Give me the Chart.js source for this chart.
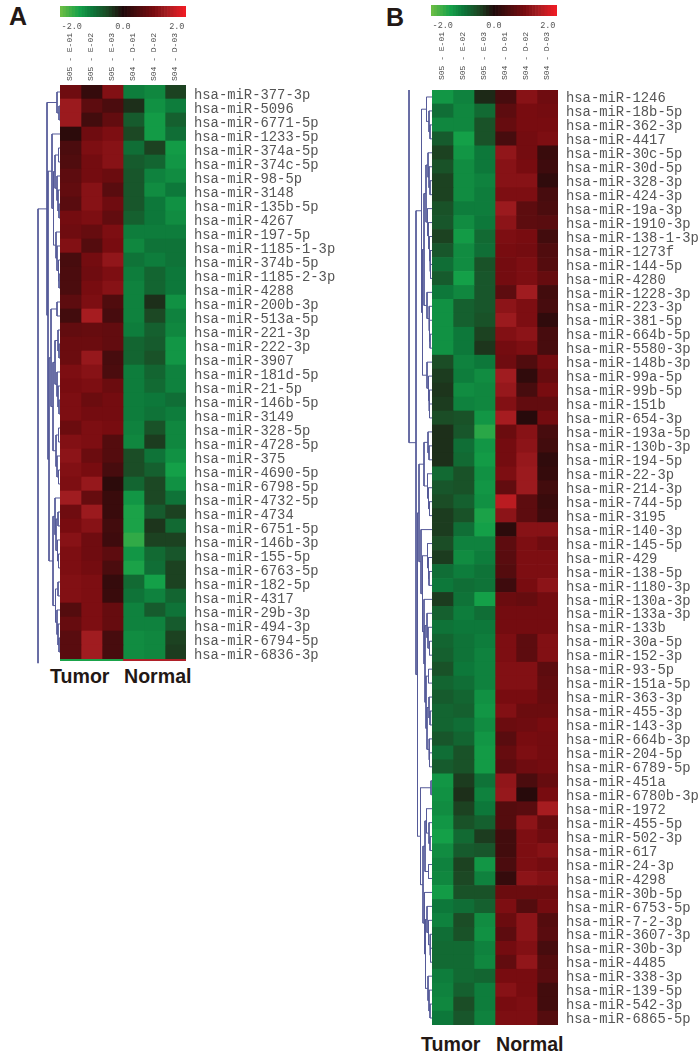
<!DOCTYPE html>
<html>
<head>
<meta charset="utf-8">
<script src="https://cdn.jsdelivr.net/npm/chart.js@4"></script>
<style>
  body { margin: 0; background: #fff; width: 700px; height: 1060px; overflow: hidden; position: relative; }
  canvas { position: absolute; }
  .txt { position: absolute; font-family: "Liberation Sans", Arial, sans-serif; font-weight: bold; color: #231815; line-height: 1; white-space: nowrap; }
  .panel { font-size: 25px; }
  .group { font-size: 19.6px; }
  .strip { position: absolute; left: 60px; top: 659px; width: 126px; height: 2px; background: linear-gradient(to right, #1aa34a 50%, #b02028 50%); }
</style>
</head>
<body>
<div class="txt panel" style="left:9px;top:4px">A</div>
<div class="txt panel" style="left:386px;top:5px">B</div>
<div class="txt group" style="left:50px;top:667px">Tumor</div>
<div class="txt group" style="left:124px;top:667px">Normal</div>
<div class="txt group" style="left:421px;top:1035px">Tumor</div>
<div class="txt group" style="left:496px;top:1035px">Normal</div>
<div class="strip"></div>

<canvas id="barA" width="126" height="34" style="left:60px;top:6px"></canvas>
<canvas id="barB" width="126" height="34" style="left:431px;top:5px"></canvas>
<canvas id="treeA" width="24" height="580" style="left:36px;top:85px"></canvas>
<canvas id="treeB" width="24" height="935" style="left:408px;top:90px"></canvas>
<canvas id="heatA" width="280" height="637" style="left:60px;top:30px"></canvas>
<canvas id="heatB" width="268" height="1000" style="left:432px;top:30px"></canvas>

<script>
const samples = ["S05 - E-01", "S05 - E-02", "S05 - E-03", "S04 - D-01", "S04 - D-02", "S04 - D-03"];

const colorbarLevels = [-2.0, -1.9, -1.8, -1.7, -1.6, -1.5, -1.4, -1.3, -1.2, -1.1, -1.0, -0.9, -0.8, -0.7, -0.6, -0.5, -0.4, -0.3, -0.2, -0.1,
  0.0, 0.1, 0.2, 0.3, 0.4, 0.5, 0.6, 0.7, 0.8, 0.9, 1.0, 1.1, 1.2, 1.3, 1.4, 1.5, 1.6, 1.7, 1.8, 1.9, 2.0];
const colorbarTicks = ["-2.0", "0.0", "2.0"];

const rowsA = ["hsa-miR-377-3p", "hsa-miR-5096", "hsa-miR-6771-5p", "hsa-miR-1233-5p", "hsa-miR-374a-5p", "hsa-miR-374c-5p", "hsa-miR-98-5p",
  "hsa-miR-3148", "hsa-miR-135b-5p", "hsa-miR-4267", "hsa-miR-197-5p", "hsa-miR-1185-1-3p", "hsa-miR-374b-5p", "hsa-miR-1185-2-3p", "hsa-miR-4288",
  "hsa-miR-200b-3p", "hsa-miR-513a-5p", "hsa-miR-221-3p", "hsa-miR-222-3p", "hsa-miR-3907", "hsa-miR-181d-5p", "hsa-miR-21-5p", "hsa-miR-146b-5p",
  "hsa-miR-3149", "hsa-miR-328-5p", "hsa-miR-4728-5p", "hsa-miR-375", "hsa-miR-4690-5p", "hsa-miR-6798-5p", "hsa-miR-4732-5p", "hsa-miR-4734",
  "hsa-miR-6751-5p", "hsa-miR-146b-3p", "hsa-miR-155-5p", "hsa-miR-6763-5p", "hsa-miR-182-5p", "hsa-miR-4317", "hsa-miR-29b-3p", "hsa-miR-494-3p",
  "hsa-miR-6794-5p", "hsa-miR-6836-3p"];

const valuesA = [
  [0.9, 0.25, 1.1, -1.05, -1.15, -0.45],
  [1.35, 0.7, 0.5, -0.3, -1.25, -1.05],
  [1.35, 0.4, 0.75, -0.7, -1.35, -0.75],
  [0.15, 0.9, 1.05, -0.5, -1.35, -0.9],
  [0.5, 1.05, 1.15, -0.9, -0.45, -1.35],
  [0.55, 0.95, 1.15, -0.7, -0.8, -1.3],
  [0.7, 0.95, 0.85, -0.65, -1.1, -1.2],
  [0.75, 1.15, 0.65, -0.65, -1.2, -1.0],
  [0.65, 1.15, 0.9, -0.65, -1.0, -1.25],
  [0.95, 1.05, 0.75, -0.75, -1.0, -1.2],
  [0.9, 0.8, 1.05, -1.05, -1.05, -1.05],
  [1.1, 0.6, 1.0, -1.15, -0.95, -0.95],
  [0.45, 0.95, 1.25, -0.95, -1.05, -0.95],
  [0.5, 0.9, 1.05, -1.05, -0.8, -1.0],
  [0.5, 1.0, 1.15, -1.1, -0.8, -1.0],
  [0.7, 1.05, 0.55, -1.1, -0.3, -1.25],
  [0.4, 1.45, 0.45, -1.1, -0.5, -1.1],
  [0.75, 0.8, 0.75, -1.05, -0.75, -1.15],
  [0.85, 0.85, 0.75, -0.8, -0.7, -1.3],
  [0.85, 1.3, 0.45, -0.8, -0.6, -1.3],
  [1.05, 1.15, 0.5, -1.05, -0.8, -1.1],
  [1.0, 1.05, 0.85, -1.05, -0.85, -1.1],
  [1.05, 0.85, 0.95, -1.05, -1.0, -0.9],
  [1.05, 0.95, 0.95, -1.05, -0.95, -1.05],
  [0.85, 1.05, 1.0, -1.1, -0.6, -1.15],
  [1.1, 1.05, 0.6, -1.15, -0.4, -1.15],
  [1.2, 0.85, 0.6, -0.55, -0.95, -1.25],
  [1.1, 1.0, 0.45, -0.55, -0.75, -1.4],
  [1.05, 1.3, 0.15, -0.8, -0.5, -1.25],
  [1.4, 0.8, 0.3, -1.3, -0.5, -0.95],
  [0.9, 1.35, 0.3, -1.45, -0.7, -0.45],
  [1.0, 1.15, 0.4, -1.45, -0.35, -0.85],
  [1.15, 0.9, 0.35, -1.6, -0.45, -0.45],
  [1.05, 0.9, 0.7, -1.3, -0.85, -0.65],
  [1.05, 0.95, 0.5, -1.45, -0.9, -0.45],
  [1.1, 1.05, 0.25, -0.85, -1.4, -0.45],
  [1.1, 1.05, 0.3, -0.95, -1.1, -0.8],
  [0.6, 1.05, 0.8, -1.1, -0.7, -0.95],
  [0.8, 1.05, 0.8, -1.1, -1.1, -0.7],
  [0.65, 1.4, 0.45, -1.2, -1.15, -0.45],
  [0.65, 1.4, 0.45, -1.2, -1.15, -0.4]
];

const rowsB = ["hsa-miR-1246", "hsa-miR-18b-5p", "hsa-miR-362-3p", "hsa-miR-4417", "hsa-miR-30c-5p", "hsa-miR-30d-5p", "hsa-miR-328-3p", "hsa-miR-424-3p",
  "hsa-miR-19a-3p", "hsa-miR-1910-3p", "hsa-miR-138-1-3p", "hsa-miR-1273f", "hsa-miR-144-5p", "hsa-miR-4280", "hsa-miR-1228-3p", "hsa-miR-223-3p",
  "hsa-miR-381-5p", "hsa-miR-664b-5p", "hsa-miR-5580-3p", "hsa-miR-148b-3p", "hsa-miR-99a-5p", "hsa-miR-99b-5p", "hsa-miR-151b", "hsa-miR-654-3p",
  "hsa-miR-193a-5p", "hsa-miR-130b-3p", "hsa-miR-194-5p", "hsa-miR-22-3p", "hsa-miR-214-3p", "hsa-miR-744-5p", "hsa-miR-3195", "hsa-miR-140-3p",
  "hsa-miR-145-5p", "hsa-miR-429", "hsa-miR-138-5p", "hsa-miR-1180-3p", "hsa-miR-130a-3p", "hsa-miR-133a-3p", "hsa-miR-133b", "hsa-miR-30a-5p",
  "hsa-miR-152-3p", "hsa-miR-93-5p", "hsa-miR-151a-5p", "hsa-miR-363-3p", "hsa-miR-455-3p", "hsa-miR-143-3p", "hsa-miR-664b-3p", "hsa-miR-204-5p",
  "hsa-miR-6789-5p", "hsa-miR-451a", "hsa-miR-6780b-3p", "hsa-miR-1972", "hsa-miR-455-5p", "hsa-miR-502-3p", "hsa-miR-617", "hsa-miR-24-3p",
  "hsa-miR-4298", "hsa-miR-30b-5p", "hsa-miR-6753-5p", "hsa-miR-7-2-3p", "hsa-miR-3607-3p", "hsa-miR-30b-3p", "hsa-miR-4485", "hsa-miR-338-3p",
  "hsa-miR-139-5p", "hsa-miR-542-3p", "hsa-miR-6865-5p"];

const valuesB = [
  [-1.3, -1.1, -0.25, 0.45, 1.15, 0.9],
  [-0.9, -1.15, -0.85, 0.7, 1.0, 0.95],
  [-1.15, -1.15, -0.6, 0.8, 1.0, 1.0],
  [-0.7, -1.4, -0.6, 0.45, 0.95, 1.05],
  [-0.45, -1.3, -1.0, 1.25, 0.95, 0.3],
  [-0.6, -1.2, -1.0, 1.15, 1.0, 0.35],
  [-0.45, -1.2, -1.1, 1.15, 1.15, 0.2],
  [-0.45, -1.2, -1.05, 1.05, 1.05, 0.45],
  [-0.6, -1.05, -1.05, 1.35, 0.7, 0.5],
  [-0.65, -1.2, -1.0, 1.2, 0.7, 0.65],
  [-0.45, -1.35, -0.85, 1.05, 1.0, 0.4],
  [-0.65, -1.2, -0.9, 1.0, 0.95, 0.55],
  [-0.9, -1.2, -0.6, 0.95, 1.05, 0.6],
  [-0.7, -1.4, -0.65, 0.95, 1.05, 0.8],
  [-1.0, -1.15, -0.65, 0.7, 1.4, 0.4],
  [-1.25, -0.75, -0.65, 1.2, 1.05, 0.45],
  [-1.25, -0.75, -0.6, 1.35, 1.05, 0.2],
  [-1.25, -1.0, -0.45, 1.1, 1.2, 0.45],
  [-1.25, -1.0, -0.35, 0.95, 1.05, 0.45],
  [-0.55, -1.1, -1.0, 0.9, 0.55, 0.95],
  [-0.4, -1.05, -1.2, 1.4, 0.2, 0.8],
  [-0.35, -1.2, -1.15, 1.3, 0.45, 1.0],
  [-0.4, -1.1, -1.15, 1.1, 0.75, 0.75],
  [-0.55, -0.6, -1.3, 1.45, 0.1, 0.95],
  [-0.3, -0.65, -1.55, 0.85, 1.15, 0.45],
  [-0.3, -0.9, -1.3, 0.95, 1.2, 0.4],
  [-0.3, -0.85, -1.35, 0.95, 1.3, 0.2],
  [-0.85, -0.6, -1.25, 1.05, 1.35, 0.25],
  [-0.65, -0.6, -1.3, 0.75, 1.35, 0.4],
  [-0.55, -0.75, -1.25, 1.6, 0.7, 0.3],
  [-0.4, -0.6, -1.45, 1.2, 0.7, 0.35],
  [-0.4, -0.9, -1.4, 0.15, 1.15, 1.15],
  [-0.55, -1.1, -1.1, 0.7, 1.05, 0.9],
  [-0.4, -1.2, -1.05, 0.65, 1.05, 1.05],
  [-0.9, -1.05, -0.95, 0.6, 1.05, 1.05],
  [-1.0, -0.9, -0.95, 0.35, 1.0, 1.2],
  [-0.4, -0.95, -1.4, 0.85, 0.8, 0.95],
  [-0.75, -1.05, -0.9, 0.95, 0.95, 0.95],
  [-0.95, -1.0, -1.0, 0.95, 0.95, 0.95],
  [-0.8, -0.95, -1.05, 1.05, 0.7, 1.1],
  [-0.75, -0.95, -1.1, 1.05, 0.7, 1.1],
  [-0.6, -1.0, -1.1, 1.1, 1.1, 0.7],
  [-0.8, -0.9, -1.1, 1.1, 1.1, 0.75],
  [-0.7, -0.8, -1.25, 1.0, 1.0, 0.8],
  [-0.8, -0.75, -1.3, 1.1, 0.85, 0.85],
  [-0.8, -0.9, -1.2, 0.85, 0.9, 1.0],
  [-0.65, -0.8, -1.3, 0.65, 1.0, 0.95],
  [-0.9, -0.6, -1.35, 0.8, 1.05, 0.95],
  [-0.7, -0.6, -1.35, 0.7, 0.9, 0.95],
  [-1.3, -0.4, -0.95, 1.25, 0.5, 0.8],
  [-1.25, -0.3, -1.1, 1.3, 0.1, 1.0],
  [-1.2, -0.45, -1.0, 0.6, 0.65, 1.45],
  [-1.3, -0.6, -0.75, 0.6, 1.2, 0.8],
  [-1.4, -0.85, -0.4, 0.4, 1.05, 0.9],
  [-1.2, -0.7, -0.65, 0.4, 1.05, 1.15],
  [-1.1, -0.45, -1.3, 0.5, 1.05, 0.95],
  [-1.15, -0.5, -1.1, 0.25, 1.2, 1.1],
  [-1.35, -0.6, -0.6, 0.85, 0.85, 0.85],
  [-1.0, -0.9, -0.75, 1.05, 0.6, 0.95],
  [-1.1, -0.55, -1.2, 0.85, 1.2, 0.6],
  [-0.9, -0.6, -1.25, 0.7, 1.2, 0.65],
  [-0.85, -0.85, -1.1, 0.95, 1.1, 0.45],
  [-0.85, -0.85, -1.15, 0.75, 1.25, 0.6],
  [-1.05, -0.85, -0.8, 1.0, 1.0, 0.65],
  [-1.1, -0.75, -1.05, 1.15, 1.0, 0.4],
  [-1.15, -0.55, -1.05, 1.0, 1.05, 0.4],
  [-1.0, -0.65, -1.1, 1.05, 1.05, 0.6]
];

// dendrograms: [merge height, child, child], a number is a row, {end} is a bare end of the root line
const treeA = [22, [13,
    [3, 0, [1, 1, 2]],
    [12,
      [8, 3, [6.5, [5, [1.5, 4, 5], [3, 6, [2, 7, [1, 8, 9]]]], [4, 10, [3, 11, [1.5, 12, [1, 13, 14]]]]]],
      [11,
        [9, [3, 15, 16], [7, [5, [2, 17, [1, 18, 19]], [3, 20, [2, 21, [1, 22, 23]]]], [4, [1.5, 24, 25], [3, 26, [1.5, 27, 28]]]]],
        [7, [5, 29, [4, [2, 30, 31], [2.5, 32, [1.5, 33, 34]]]], [4.5, [2, 35, 36], [3, 37, [2, 38, [1, 39, 40]]]]]
      ]
    ]
  ], { end: 41.3 }];

const treeB = [23, { end: 0 }, [16,
    [10.5,
      [5.5, 0, [3, 1, [2, 2, 3]]],
      [9.5,
        [8, [6, [4, 4, [3, 5, [2, 6, 7]]], [4.5, 8, [3.5, 9, [2.5, 10, [2, 11, [1.5, 12, 13]]]]]], [5, 14, [3, 15, [2.5, 16, [2, 17, 18]]]]],
        [5, 19, [3.5, 20, [3, 21, [2.5, 22, 23]]]]
      ]
    ],
    [14.5,
      [13,
        [8, [4, 24, [3, 25, 26]], [4.5, 27, [3.5, 28, [2.5, 29, 30]]]],
        [11, 31, [9.5, [4.5, 32, [3.5, 33, [3, 34, 35]]],
          [8, 36, [7, [5, 37, [4, 38, [2.5, 39, 40]]], [6, [3.5, 41, 42], [5, [3, 43, [2, 44, 45]], [3, 46, [2.5, 47, 48]]]]]]]]
      ],
      [11.5, [1, 49, 50],
        [9, [7, [5.5, 51, [3, 52, [2, 53, 54]]], [3.5, 55, 56]],
          [7.5, 57, [6.5, [5, 58, [3.5, 59, [2, 60, [1.5, 61, 62]]]], [4, 63, [3, 64, [2, 65, 66]]]]]]]
    ]
  ]];

const colorStops = [
  [-2, 106, 189, 69], [-1.4, 20, 160, 72], [-1, 13, 120, 58], [-0.5, 28, 72, 36], [0, 30, 10, 10],
  [0.5, 75, 12, 14], [1, 120, 12, 16], [1.4, 160, 28, 32], [2, 237, 28, 36]
];

function cellColor(v) {
  for (let i = 1; i < colorStops.length; i++) {
    const a = colorStops[i - 1], b = colorStops[i];
    if (v <= b[0]) {
      const t = (v - a[0]) / (b[0] - a[0]);
      return "rgb(" + [1, 2, 3].map(k => Math.round(a[k] + (b[k] - a[k]) * t)).join(",") + ")";
    }
  }
  return "rgb(237,28,36)";
}

const monoFont = "'Liberation Mono', 'Courier New', monospace";

function noPadding(s) {
  s.paddingLeft = 0; s.paddingRight = 0; s.paddingTop = 0; s.paddingBottom = 0;
}

function drawColorbar(id) {
  new Chart(document.getElementById(id), {
    type: "bar",
    data: {
      labels: colorbarLevels.map(v => v.toFixed(1)),
      datasets: [{ data: colorbarLevels.map(() => [0, 1]), backgroundColor: colorbarLevels.map(cellColor), borderWidth: 0, barPercentage: 1, categoryPercentage: 1 }]
    },
    options: {
      responsive: false, animation: false,
      layout: { padding: 0 },
      plugins: { legend: { display: false }, tooltip: { enabled: false } },
      scales: {
        y: { display: false, min: 0, max: 1 },
        x: {
          afterFit(s) { s.height = 23; noPadding(s); },
          grid: { display: false, drawTicks: false }, border: { display: false },
          ticks: {
            autoSkip: false, maxRotation: 0, minRotation: 0, padding: 5, align: "inner",
            color: "#555", font: { family: monoFont, size: 8.5 },
            callback(v) { const s = this.getLabelForValue(v); return colorbarTicks.includes(s) ? s : ""; }
          }
        }
      }
    }
  });
}

function drawHeatmap(id, rows, values, topHeight, axisWidth, labelGap, rowShift, bottomGap) {
  const datasets = samples.map((name, c) => ({
    label: name,
    data: rows.map(() => [c, c + 1]),
    backgroundColor: values.map(r => cellColor(r[c])),
    borderWidth: 0, grouped: false, barPercentage: 1, categoryPercentage: 1
  }));
  new Chart(document.getElementById(id), {
    type: "bar",
    data: { labels: rows, datasets: datasets },
    options: {
      indexAxis: "y",
      responsive: false, animation: false,
      layout: { padding: { bottom: bottomGap } },
      plugins: { legend: { display: false }, tooltip: { enabled: false } },
      scales: {
        x: { display: false, min: 0, max: samples.length },
        x2: {
          type: "category", position: "top", labels: samples, offset: true,
          afterFit(s) { s.height = topHeight; noPadding(s); },
          grid: { display: false, drawTicks: false }, border: { display: false },
          ticks: { autoSkip: false, minRotation: 90, maxRotation: 90, padding: labelGap, labelOffset: 8.5, color: "#444", font: { family: monoFont, size: 8 } }
        },
        y: {
          position: "right",
          afterFit(s) { s.width = axisWidth; noPadding(s); },
          grid: { display: false, drawTicks: false }, border: { display: false },
          ticks: { autoSkip: false, padding: 8, labelOffset: rowShift, color: "#555", font: { family: monoFont, size: 13.85 } }
        }
      }
    }
  });
}

function collectBrackets(node, parentH, out) {
  if (typeof node === "number") return { h: 0, y: node + 0.5 };
  if (node.end !== undefined) return { h: parentH, y: node.end };
  const a = collectBrackets(node[1], node[0], out);
  const b = collectBrackets(node[2], node[0], out);
  out.push([{ x: a.h, y: a.y }, { x: node[0], y: a.y }, { x: node[0], y: b.y }, { x: b.h, y: b.y }]);
  return { h: node[0], y: (a.y + b.y) / 2 };
}

function drawTree(id, tree, rowCount, maxH) {
  const brackets = [];
  collectBrackets(tree, tree[0], brackets);
  new Chart(document.getElementById(id), {
    type: "scatter",
    data: {
      datasets: brackets.map(b => ({ data: b, showLine: true, pointRadius: 0, borderColor: "#555a98", borderWidth: 1, tension: 0 }))
    },
    options: {
      responsive: false, animation: false,
      layout: { padding: 0 },
      plugins: { legend: { display: false }, tooltip: { enabled: false } },
      scales: {
        x: { display: false, reverse: true, min: 0, max: maxH },
        y: { display: false, reverse: true, min: 0, max: rowCount }
      }
    }
  });
}

drawColorbar("barA");
drawColorbar("barB");
drawTree("treeA", treeA, 41.43, 24);
drawTree("treeB", treeB, rowsB.length, 24);
drawHeatmap("heatA", rowsA, valuesA, 55, 154, 4, 3.5, 8);
drawHeatmap("heatB", rowsB, valuesB, 60, 142, 10, 1.5, 5);
</script>
</body>
</html>
